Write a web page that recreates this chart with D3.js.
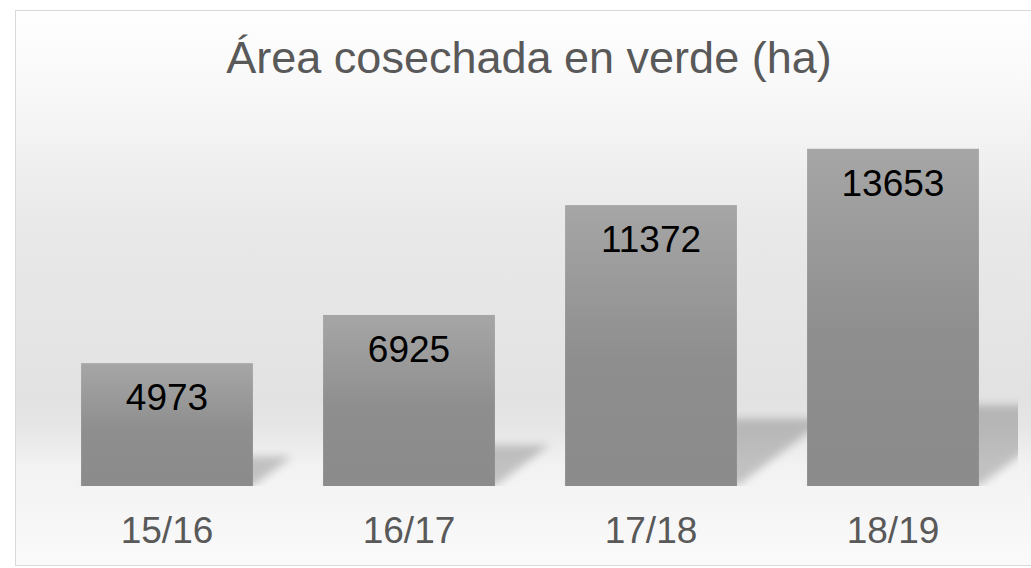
<!DOCTYPE html>
<html>
<head>
<meta charset="utf-8">
<script src="https://cdn.jsdelivr.net/npm/d3@7"></script>
<style>
  body { margin: 0; background: #fff; }
  svg { display: block; font-family: "Liberation Sans", Arial, sans-serif; }
</style>
</head>
<body>
<div id="viz"></div>
<script>
// chart data
const seasons = ["15/16", "16/17", "17/18", "18/19"];
const areaHa = [4973, 6925, 11372, 13653];
const chartTitle = "Área cosechada en verde (ha)";

const W = 1031, H = 568;
const svg = d3.select("#viz").append("svg")
  .attr("width", W)
  .attr("height", H);

const defs = svg.append("defs");

// background: light wall fading into a lighter floor
const bg = defs.append("linearGradient")
  .attr("id", "bgGrad")
  .attr("gradientUnits", "userSpaceOnUse")
  .attr("x1", 0).attr("y1", 10).attr("x2", 0).attr("y2", 566);
[[10, "#ffffff"], [90, "#f8f8f8"], [220, "#e9e9e9"], [400, "#e2e2e2"], [428, "#e6e6e6"],
 [465, "#f2f2f2"], [566, "#fafafa"]]
  .forEach(s => bg.append("stop")
    .attr("offset", (s[0] - 10) / 556)
    .attr("stop-color", s[1]));

// bar fill
const barGrad = defs.append("linearGradient")
  .attr("id", "barGrad")
  .attr("x1", 0).attr("y1", 0).attr("x2", 0).attr("y2", 1);
barGrad.append("stop").attr("offset", 0).attr("stop-color", "#a6a6a6");
barGrad.append("stop").attr("offset", 0.55).attr("stop-color", "#8e8e8e");
barGrad.append("stop").attr("offset", 1).attr("stop-color", "#8b8b8b");

// blur for the cast shadows
defs.append("filter")
  .attr("id", "shadowBlur")
  .attr("x", "-30%").attr("y", "-30%").attr("width", "160%").attr("height", "160%")
  .append("feGaussianBlur").attr("stdDeviation", 4);

defs.append("clipPath").attr("id", "plotClip")
  .append("rect").attr("x", 16).attr("y", 10).attr("width", 1002).attr("height", 476);

svg.append("rect")
  .attr("x", 15.5).attr("y", 10.5)
  .attr("width", 1030).attr("height", 555)
  .attr("fill", "url(#bgGrad)")
  .attr("stroke", "#d9d9d9");

// scales
const x = d3.scaleBand()
  .domain(seasons)
  .range([46, 1014])
  .paddingInner(0.29)
  .paddingOuter(0.145);

const y = d3.scaleLinear()
  .domain([0, 15000])
  .range([486, 115.5]);

const base = y(0);

// shadows (skewed copies of each bar, cast back and to the right)
svg.append("g")
  .attr("clip-path", "url(#plotClip)")
  .selectAll("path")
  .data(areaHa)
  .enter()
  .append("path")
  .attr("d", (d, i) => {
    const h = base - y(d);
    const x0 = x(seasons[i]), x1 = x0 + x.bandwidth();
    const dx = 0.32 * h, sh = 0.24 * h;
    return `M${x0},${base} L${x1},${base} L${x1 + dx},${base - sh} L${x0 + dx},${base - sh} Z`;
  })
  .attr("fill", "#000")
  .attr("opacity", 0.2)
  .attr("filter", "url(#shadowBlur)");

// bars
svg.append("g")
  .selectAll("rect")
  .data(areaHa)
  .enter()
  .append("rect")
  .attr("x", (d, i) => x(seasons[i]))
  .attr("y", d => y(d))
  .attr("width", x.bandwidth())
  .attr("height", d => base - y(d))
  .attr("fill", "url(#barGrad)");

// value labels inside bars
svg.append("g")
  .selectAll("text")
  .data(areaHa)
  .enter()
  .append("text")
  .attr("x", (d, i) => x(seasons[i]) + x.bandwidth() / 2)
  .attr("y", d => y(d) + 47)
  .attr("text-anchor", "middle")
  .attr("font-size", 37)
  .attr("fill", "#000")
  .text(d => d);

// category axis (no line, labels only)
const xAxis = svg.append("g")
  .attr("transform", `translate(0,${base})`)
  .call(d3.axisBottom(x).tickSize(0).tickPadding(0));
xAxis.select(".domain").remove();
xAxis.selectAll("text")
  .attr("y", 57)
  .attr("dy", 0)
  .attr("font-size", 37)
  .attr("font-family", "Liberation Sans, Arial, sans-serif")
  .attr("fill", "#595959");

// title
svg.append("text")
  .attr("x", 529)
  .attr("y", 73)
  .attr("text-anchor", "middle")
  .attr("font-size", 45)
  .attr("fill", "#595959")
  .text(chartTitle);
</script>
</body>
</html>
